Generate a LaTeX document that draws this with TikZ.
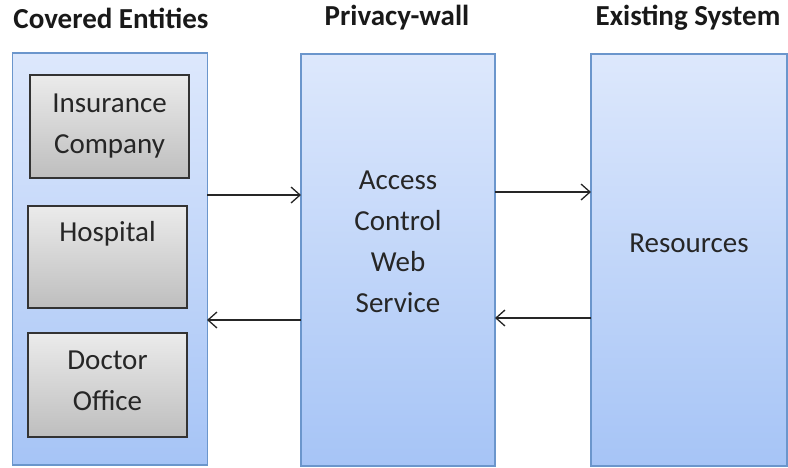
\documentclass[tikz,border=0pt]{standalone}
\usepackage{fontspec}
\setmainfont{Carlito}
\usetikzlibrary{arrows.meta}
\definecolor{bluetop}{HTML}{DDE8FC}
\definecolor{bluebot}{HTML}{A6C4F6}
\definecolor{blueedge}{HTML}{6B96CC}
\definecolor{greytop}{HTML}{EBEBEB}
\definecolor{greybot}{HTML}{BEBEBE}
\tikzset{
  panel/.style={draw=blueedge, line width=1.5pt, top color=bluetop, bottom color=bluebot, rectangle, inner sep=0pt},
  entity/.style={draw=black!80, line width=2pt, top color=greytop, bottom color=greybot, rectangle, inner sep=0pt},
  lbl/.style={font=\fontsize{29}{41}\selectfont, align=center, text=black!85},
  ttl/.style={font=\bfseries\fontsize{29}{33}\selectfont, text=black!90},
  conn/.style={line width=1.3pt, black!85, -{Straight Barb[length=9pt,width=16pt,line width=1.3pt]}}
}
\begin{document}
\begin{tikzpicture}[x=1pt,y=-1pt]
\useasboundingbox (0,0) rectangle (788,467);
% panels
\node[panel, minimum width=195pt, minimum height=412pt] (left) at (110,259) {};
\node[panel, minimum width=194pt, minimum height=412pt] (mid) at (398,260) {};
\node[panel, minimum width=196pt, minimum height=412pt] (right) at (689,260) {};
% entities
\node[entity, minimum width=159pt, minimum height=103pt] (ins) at (109.5,126.5) {};
\node[entity, minimum width=159pt, minimum height=102pt] (hos) at (107.5,257) {};
\node[entity, minimum width=159pt, minimum height=104pt] (doc) at (107.5,385) {};
% texts
\node[lbl] (inst) at (109.5,126) {Insurance\\Company};
\node[lbl] (host) at (107.5,233.5) {Hospital};
\node[lbl] (doct) at (107.5,380.5) {Doctor\\Office};
\node[lbl] (midt) at (398,241.5) {Access\\Control\\Web\\Service};
\node[lbl] (rest) at (689,243) {Resources};
% titles
\node[ttl] (t1) at (111,18) {Covered Entities};
\node[ttl] (t2) at (397,18) {Privacy-wall};
\node[ttl] (t3) at (688,18) {Existing System};
% connectors
\coordinate (a1) at (207,195);
\coordinate (a2) at (301,195);
\coordinate (b1) at (301,320);
\coordinate (b2) at (207,320);
\coordinate (c1) at (495,192);
\coordinate (c2) at (591,192);
\coordinate (d1) at (591,318);
\coordinate (d2) at (495,318);
\draw[conn] (a1) -- (a2);
\draw[conn] (b1) -- (b2);
\draw[conn] (c1) -- (c2);
\draw[conn] (d1) -- (d2);
\end{tikzpicture}
\end{document}
